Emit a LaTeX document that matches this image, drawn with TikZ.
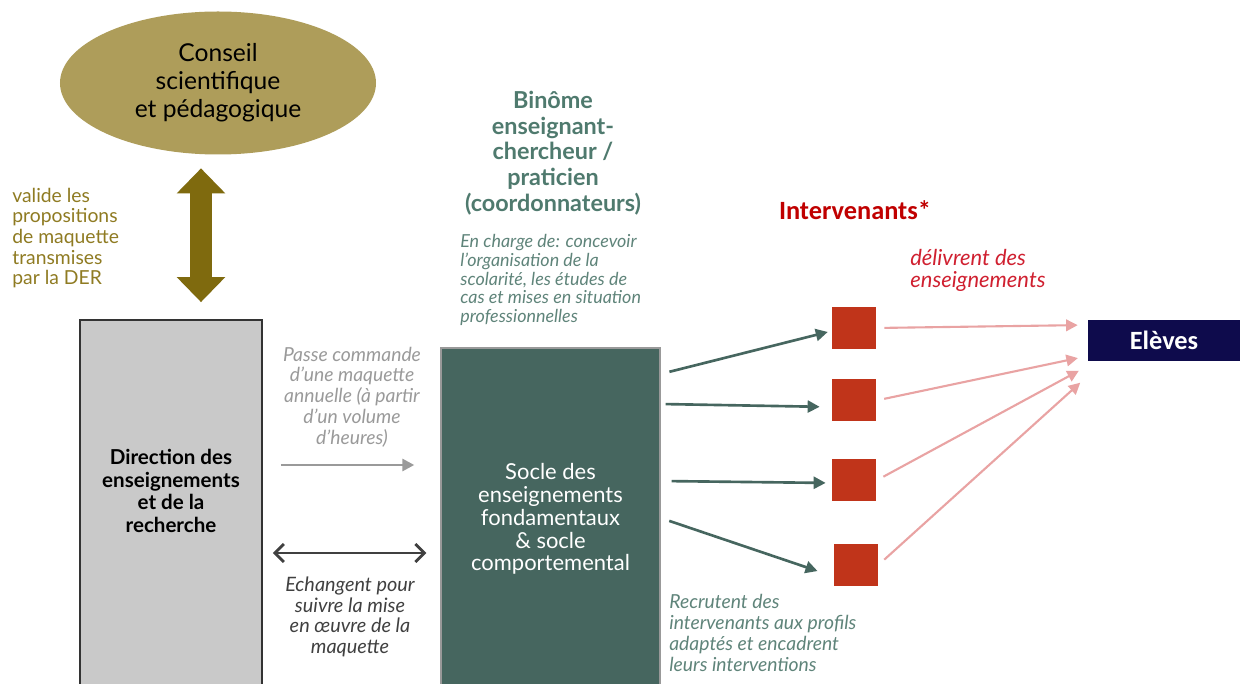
\documentclass[tikz,border=0pt]{standalone}
\usepackage{fontspec}
\setmainfont{Lato}
\newfontfamily\calib{Carlito}
\usetikzlibrary{arrows.meta,shapes.geometric}

\definecolor{conseilfill}{HTML}{AE9D5A}
\definecolor{olivedark}{HTML}{7F6A0E}
\definecolor{olivetext}{HTML}{8F7B22}
\definecolor{dergray}{HTML}{C9C9C9}
\definecolor{soclefill}{HTML}{46665F}
\definecolor{binometext}{HTML}{4F7A6E}
\definecolor{noteteal}{HTML}{5F847A}
\definecolor{passegray}{HTML}{9A9A9A}
\definecolor{echangegray}{HTML}{404040}
\definecolor{intertitle}{HTML}{C00000}
\definecolor{delivred}{HTML}{D02030}
\definecolor{squarered}{HTML}{C0341A}
\definecolor{pinkline}{HTML}{E9A3A3}
\definecolor{elevesnavy}{HTML}{0E0B4C}

\begin{document}
\begin{tikzpicture}[x=0.2mm, y=-0.2mm,
    every node/.style={inner sep=0pt, align=center},
    interv/.style={fill=squarered, minimum width=8.8mm, minimum height=8.4mm},
    recrute/.style={draw=soclefill, line width=1.5pt, -{Triangle[length=2.4mm, width=2.4mm]}},
    delivre/.style={draw=pinkline, line width=1.2pt, -{Triangle[length=2.3mm, width=2.3mm]},
        shorten <=1.6mm, shorten >=2mm},
    note/.style={font=\fontsize{10.2}{10.6}\selectfont\itshape}]
    \clip (0,0) rectangle (1245,684);
    \fill[white] (0,0) rectangle (1245,684);

    \node[ellipse, fill=conseilfill, minimum width=63.2mm, minimum height=28.6mm,
        font=\fontsize{14}{16}\selectfont] (conseil) at (218,83)
        {Conseil\\scientifique\\et pédagogique};
    \node[anchor=west, align=left, text=olivetext, font=\fontsize{11}{11.7}\selectfont]
        (valide) at (12,238) {valide les\\propositions\\de maquette\\transmises\\par la DER};

    \node[draw=black!80, line width=1pt, fill=dergray, minimum width=36.4mm,
        minimum height=74mm] (der) at (171,505) {};
    \node[font=\fontsize{11.7}{13}\selectfont\bfseries] (dertext) at (171,491)
        {Direction des\\enseignements\\et de la\\recherche};

    \draw[olivedark, line width=4.4mm, {Triangle[length=5mm, width=9.4mm]}-{Triangle[length=5mm, width=9.4mm]},
        shorten <=2.7mm, shorten >=3.4mm] (conseil.south -| 201,0) -- (der.north -| 201,0);

    \node[text=binometext, font=\fontsize{13.3}{14.6}\selectfont\bfseries] (binome) at (553,153)
        {Binôme\\enseignant-\\chercheur /\\praticien\\(coordonnateurs)};
    \node[note, anchor=west, align=left, text=noteteal] (charge) at (460,280)
        {En charge de: concevoir\\l’organisation de la\\scolarité, les études de\\cas et mises en situation\\professionnelles};

    \node[draw=black!40, line width=0.8pt, fill=soclefill, text=white, minimum width=43.8mm,
        minimum height=68.4mm, font=\fontsize{12.5}{13}\selectfont] (socle) at (550.5,519)
        {Socle des\\enseignements\\fondamentaux\\\& socle\\comportemental};

    \node[text=passegray, font=\fontsize{11}{11.8}\selectfont\itshape] (passe) at (352,397)
        {Passe commande\\d’une maquette\\annuelle (à partir\\d’un volume\\d’heures)};
    \draw[passegray, line width=1.6pt, -{Triangle[length=2.4mm, width=2.4mm]},
        shorten <=3.6mm, shorten >=5.2mm] (der.east |- 0,465) -- (socle.west |- 0,465);
    \draw[echangegray, line width=1.6pt, {Straight Barb[length=1.8mm, width=3.6mm]}-{Straight Barb[length=1.8mm, width=3.6mm]},
        shorten <=2mm, shorten >=2.8mm] (der.east |- 0,553) -- (socle.west |- 0,553);
    \node[text=echangegray, font=\fontsize{11.3}{11.8}\selectfont\itshape] (echange) at (350,617)
        {Echangent pour\\suivre la mise\\en œuvre de la\\maquette};

    \node[text=intertitle, font=\calib\fontsize{15}{16}\selectfont\bfseries] (intertitre) at (855,210)
        {Intervenants*};
    \node[anchor=west, align=left, text=delivred, font=\fontsize{12.5}{12.5}\selectfont\itshape]
        (delivrent) at (910,270) {délivrent des\\enseignements};

    \node[interv] (i1) at (854,328) {};
    \node[interv] (i2) at (854,400.5) {};
    \node[interv] (i3) at (854,480.5) {};
    \node[interv] (i4) at (856,565) {};

    \node[fill=elevesnavy, text=white, minimum width=30.4mm, minimum height=8.2mm,
        font=\calib\fontsize{15}{16}\selectfont\bfseries] (eleves) at (1164,340.5) {Elèves};

    \foreach \y/\n/\a/\b/\d in {374/i1/1.8mm/0.8mm/-0.6mm, 404/i2/1mm/2.4mm/-1.3mm,
        481/i3/2.2mm/1.2mm/-0.5mm, 518/i4/1.8mm/3.4mm/-2.3mm}
        \draw[recrute, shorten <=\a, shorten >=\b] (socle.east |- 0,\y) -- ([yshift=\d]\n.west);
    \foreach \n/\y in {i1/325, i2/356, i3/366, i4/376}
        \draw[delivre] (\n.east) -- (eleves.west |- 0,\y);

    \node[anchor=west, align=left, text=noteteal, font=\fontsize{11}{11.8}\selectfont\itshape]
        (recrutent) at (669,633) {Recrutent des\\intervenants aux profils\\adaptés et encadrent\\leurs interventions};
\end{tikzpicture}
\end{document}
